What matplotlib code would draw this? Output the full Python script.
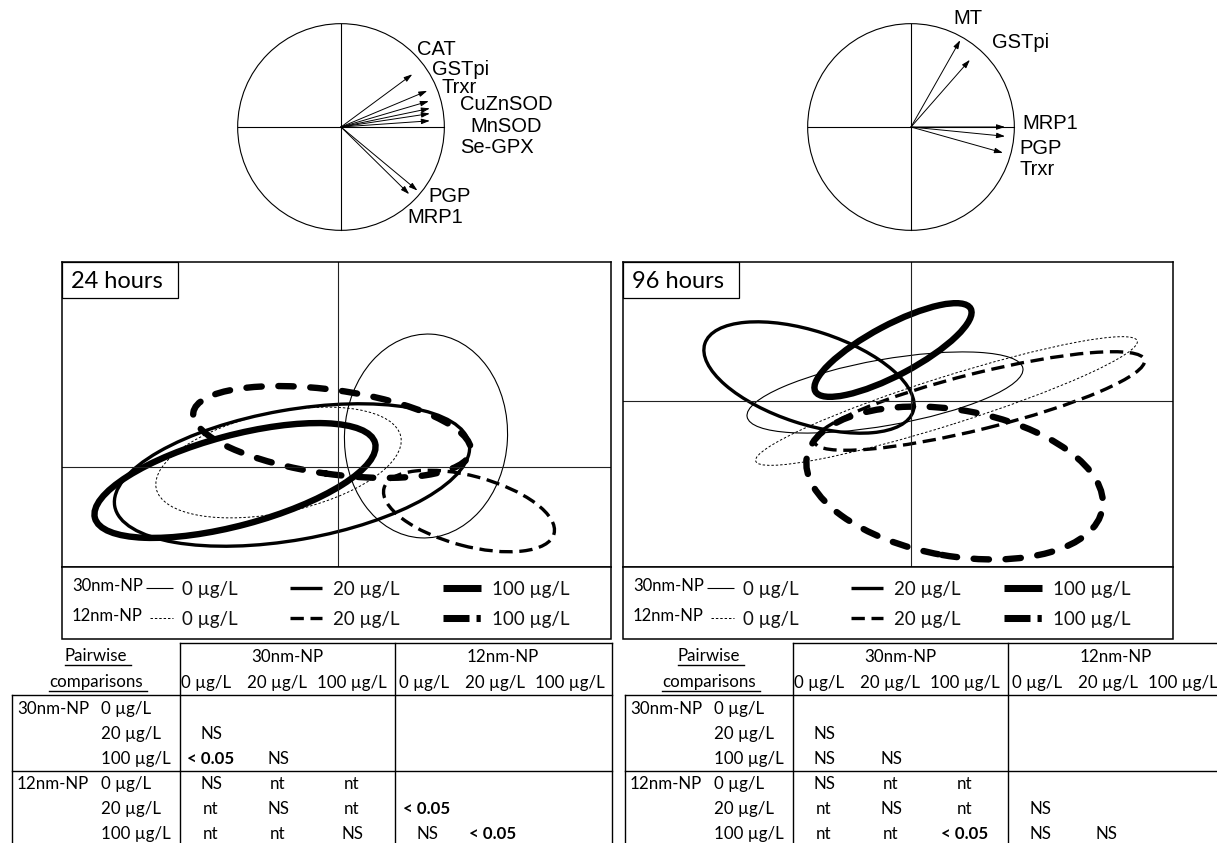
import matplotlib
matplotlib.use('Agg')
import matplotlib.pyplot as plt
from matplotlib.patches import Ellipse, Circle, Rectangle

# ---- data ----
# correlation circles (variable loadings on the first two axes)
vars_24 = ['CAT', 'GSTpi', 'Trxr', 'CuZnSOD', 'MnSOD', 'Se-GPX', 'PGP', 'MRP1']
load_x_24 = [0.69, 0.835, 0.85, 0.86, 0.86, 0.86, 0.74, 0.66]
load_y_24 = [0.51, 0.35, 0.25, 0.18, 0.13, 0.06, -0.615, -0.65]

vars_96 = ['MT', 'GSTpi', 'MRP1', 'PGP', 'Trxr']
load_x_96 = [0.476, 0.57, 0.91, 0.91, 0.89]
load_y_96 = [0.84, 0.65, 0.0, -0.09, -0.25]

# confidence ellipses, order: 30nm 0/20/100, 12nm 0/20/100
np_names = ['30nm-NP', '12nm-NP']
conc_names = ['0 µg/L', '20 µg/L', '100 µg/L']

ell_cx_24 = [0.88, -0.46, -1.03, -0.595, 1.31, -0.06]
ell_cy_24 = [0.31, -0.08, -0.135, 0.045, -0.44, 0.35]
ell_w_24 = [1.63, 3.6, 2.9, 2.5, 1.76, 2.8]
ell_h_24 = [2.04, 1.3, 0.9, 1.0, 0.7, 0.84]
ell_ang_24 = [-3, 10, 15, 12, -15, -8]

ell_cx_96 = [-0.26, -1.02, -0.18, 0.355, 0.685, 0.436]
ell_cy_96 = [0.085, 0.235, 0.51, 0.0, 0.0, -0.82]
ell_w_96 = [2.8, 2.19, 1.76, 4.0, 3.4, 3.0]
ell_h_96 = [0.66, 0.93, 0.5, 0.48, 0.56, 1.46]
ell_ang_96 = [10, -18, 28, 17.5, 14, -10]

# pairwise comparison p-values
cmp_24 = [
    ['', '', '', '', '', ''],
    ['NS', '', '', '', '', ''],
    ['< 0.05', 'NS', '', '', '', ''],
    ['NS', 'nt', 'nt', '', '', ''],
    ['nt', 'NS', 'nt', '< 0.05', '', ''],
    ['nt', 'nt', 'NS', 'NS', '< 0.05', ''],
]
cmp_96 = [
    ['', '', '', '', '', ''],
    ['NS', '', '', '', '', ''],
    ['NS', 'NS', '', '', '', ''],
    ['NS', 'nt', 'nt', '', '', ''],
    ['nt', 'NS', 'nt', 'NS', '', ''],
    ['nt', 'nt', '< 0.05', 'NS', 'NS', ''],
]

# ---- styles ----
series_lw = [0.8, 2.4, 4.6, 0.7, 2.4, 4.6]
series_dash = [None, None, None, (2.5, 2.0), (4.0, 2.0), (2.4, 2.6)]
series_cap = ['butt', 'butt', 'butt', 'butt', 'butt', 'round']
CAL = ['Lato', 'DejaVu Sans']
ARIAL = ['Liberation Sans', 'DejaVu Sans']

W, H = 1217, 843
fig = plt.figure(figsize=(W / 100, H / 100), dpi=100)


def px_axes(x0, y0, x1, y1, **kw):
    return fig.add_axes([x0 / W, 1 - y1 / H, (x1 - x0) / W, (y1 - y0) / H], **kw)


def ls_of(i):
    return '-' if series_dash[i] is None else (0, series_dash[i])


# ---- correlation circles ----
def circle(cx, names, lx, ly, lab_pos):
    ax = px_axes(cx - 124, 3, cx + 124, 251)
    ax.set_xlim(-1.2, 1.2)
    ax.set_ylim(-1.2, 1.2)
    ax.axis('off')
    ax.add_patch(Circle((0, 0), 1, fill=False, lw=0.8, color='black'))
    ax.plot([-1, 1], [0, 0], color='black', lw=0.8)
    ax.plot([0, 0], [-1, 1], color='black', lw=0.8)
    for x, y in zip(lx, ly):
        ax.annotate('', xy=(x, y), xytext=(0, 0),
                    arrowprops=dict(arrowstyle='-|>,head_length=0.5,head_width=0.16',
                                    lw=0.7, color='black', shrinkA=0, shrinkB=0))
    for name, (tx, ty) in zip(names, lab_pos):
        ax.text(tx, ty, name, ha='left', va='center', fontsize=14.5,
                family=ARIAL, clip_on=False)


circle(341, vars_24, load_x_24, load_y_24,
       [(0.74, 0.75), (0.88, 0.555), (0.97, 0.38), (1.155, 0.214),
        (1.25, 0.0), (1.155, -0.194), (0.845, -0.67), (0.64, -0.874)])
circle(911, vars_96, load_x_96, load_y_96,
       [(0.41, 1.05), (0.786, 0.816), (1.078, 0.03), (1.049, -0.204), (1.049, -0.408)])


# ---- ellipse panels ----
def draw_panel(ax, xlim, ylim, cx, cy, w, h, ang):
    ax.set_xlim(*xlim)
    ax.set_ylim(*ylim)
    ax.set_xticks([])
    ax.set_yticks([])
    for s in ax.spines.values():
        s.set_linewidth(1.1)
    ax.axhline(0, color='#222222', lw=0.8)
    ax.axvline(0, color='#222222', lw=0.8)
    for i in range(6):
        e = Ellipse((cx[i], cy[i]), w[i], h[i], angle=ang[i], fill=False,
                    edgecolor='black', lw=series_lw[i], linestyle=ls_of(i))
        e.set_capstyle(series_cap[i])
        ax.add_patch(e)


ax24 = px_axes(62, 262, 611, 567)
draw_panel(ax24, (-2.76, 2.73), (-1.0, 2.05),
           ell_cx_24, ell_cy_24, ell_w_24, ell_h_24, ell_ang_24)
ax96 = px_axes(623, 262, 1173, 567)
draw_panel(ax96, (-2.88, 2.62), (-1.66, 1.39),
           ell_cx_96, ell_cy_96, ell_w_96, ell_h_96, ell_ang_96)

# ---- overlay in pixel coordinates: legends, labels, tables ----
ov = fig.add_axes([0, 0, 1, 1], zorder=10)
ov.set_xlim(0, W)
ov.set_ylim(H, 0)
ov.axis('off')
ov.patch.set_alpha(0)

for x0, x1, title in [(62, 611, '24 hours'), (623, 1173, '96 hours')]:
    # time label box
    ov.add_patch(Rectangle((x0, 262), 116, 36, facecolor='white',
                           edgecolor='black', lw=0.9))
    ov.text(x0 + 9, 281, title, fontsize=17, family=CAL, va='center', ha='left')
    # legend box
    ov.add_patch(Rectangle((x0, 567), x1 - x0, 72, facecolor='white',
                           edgecolor='black', lw=1.1))
    leg_y = [588, 618]
    samples = [(84, 111), (228, 260), (381, 419)]
    for g in range(2):
        y = leg_y[g]
        ov.text(x0 + 10, y - 2, np_names[g], fontsize=12, family=CAL,
                va='center', ha='left')
        for c in range(3):
            i = g * 3 + c
            sx0, sx1 = samples[c]
            if g == 1 and c == 0:
                sx0 += 4
            ls = (0, (3.7, 1.0, 0.6, 20)) if i == 5 else ls_of(i)
            ov.plot([x0 + sx0, x0 + sx1], [y, y], color='black',
                    lw=series_lw[i] * (1.1 if c == 2 else 1.0),
                    linestyle=ls, solid_capstyle='butt', dash_capstyle='butt')
            lab_x = [120, 271, 430][c]
            ov.text(x0 + lab_x, y + 1, conc_names[c], fontsize=13.5, family=CAL,
                    va='center', ha='left', color='#111111')

# tables
col_hdr_x = [206, 277, 352, 424, 495, 570]
val_x = [211, 278, 352, 427, 493, 570]
row_y = [709, 734, 759, 784, 809, 834]
fs = 12.2
under = []
for t0, table in [(0, cmp_24), (613, cmp_96)]:
    lw = 1.0
    ov.plot([t0 + 180, t0 + 180], [643, 843], color='black', lw=lw)
    ov.plot([t0 + 395, t0 + 395], [643, 843], color='black', lw=lw)
    ov.plot([t0 + 612, t0 + 612], [643, 843], color='black', lw=lw)
    ov.plot([t0 + 180, t0 + 612], [643, 643], color='black', lw=lw)
    ov.plot([t0 + 12, t0 + 12], [695, 843], color='black', lw=lw)
    ov.plot([t0 + 12, t0 + 612], [695, 695], color='black', lw=lw)
    ov.plot([t0 + 12, t0 + 612], [771, 771], color='black', lw=lw)

    under.append(ov.text(t0 + 96, 656, 'Pairwise', fontsize=fs, family=CAL,
                         ha='center', va='center'))
    under.append(ov.text(t0 + 96, 682, 'comparisons', fontsize=fs, family=CAL,
                         ha='center', va='center'))
    ov.text(t0 + 287, 657, np_names[0], fontsize=fs, family=CAL, ha='center', va='center')
    ov.text(t0 + 503, 657, np_names[1], fontsize=fs, family=CAL, ha='center', va='center')
    for k in range(6):
        ov.text(t0 + col_hdr_x[k], 683, conc_names[k % 3], fontsize=fs, family=CAL,
                ha='center', va='center')
    for r in range(6):
        if r % 3 == 0:
            ov.text(t0 + 17, row_y[r], np_names[r // 3], fontsize=fs, family=CAL,
                    ha='left', va='center')
        ov.text(t0 + 101, row_y[r], conc_names[r % 3], fontsize=fs, family=CAL,
                ha='left', va='center')
        for k in range(6):
            v = table[r][k]
            if v:
                ov.text(t0 + val_x[k], row_y[r], v, fontsize=fs, family=CAL,
                        ha='center', va='center',
                        fontweight='bold' if v.startswith('<') else 'normal')

# underline the "Pairwise comparisons" heading
fig.canvas.draw()
ren = fig.canvas.get_renderer()
for t in under:
    bb = t.get_window_extent(ren)
    yb = H - bb.y0 + 1
    ov.plot([bb.x0, bb.x1 + 4], [yb, yb], color='black', lw=1.0)

fig.savefig('out.png', dpi=100)
